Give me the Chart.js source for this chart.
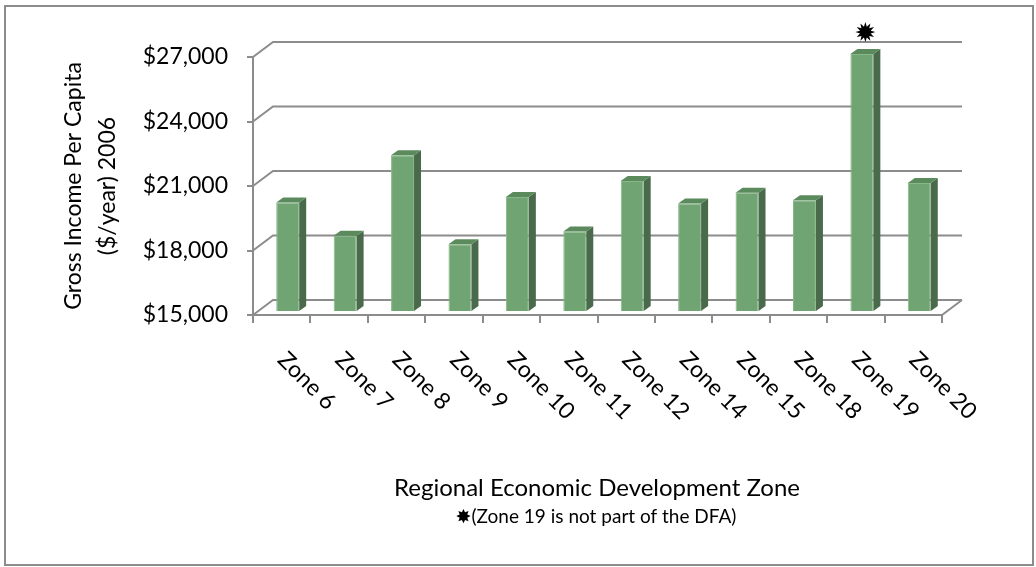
<!DOCTYPE html>
<html>
<head>
<meta charset="utf-8">
<script src="https://cdn.jsdelivr.net/npm/chart.js@4.4.0/dist/chart.umd.min.js"></script>
<style>
  html, body { margin: 0; padding: 0; background: #fff; }
  #wrap { width: 1036px; height: 567px; }
</style>
</head>
<body>
<div id="wrap"><canvas id="incomeChart" width="1036" height="567"></canvas></div>
<script>
const zones = ["Zone 6", "Zone 7", "Zone 8", "Zone 9", "Zone 10", "Zone 11",
               "Zone 12", "Zone 14", "Zone 15", "Zone 18", "Zone 19", "Zone 20"];
const incomePerCapita = [20050, 18500, 22250, 18100, 20300, 18700,
                         21050, 20000, 20500, 20150, 26950, 20950];
const yMin = 15000;
const yMax = 27000;
const yStep = 3000;
const flaggedZone = "Zone 19";
const yTitle = ["Gross Income Per Capita", "($/year) 2006"];
const xTitle = "Regional Economic Development Zone";
const footnote = "\u2738(Zone 19 is not part of the DFA)";

const FONT = "Lato, 'DejaVu Sans', sans-serif";
const GRID = "#8c8c8c";
const FRONT = "#71a473";
const SIDE = "#4a6b4b";
const TOP = "#5b8a5d";

// oblique offsets for the fake 3D look
const WALL_DX = 20, WALL_DY = -15;   // back wall relative to front axis
const SHIFT_X = 6, SHIFT_Y = -4;     // bars sit a little behind the front edge
const BAR_DX = 7, BAR_DY = -5;       // bar depth

function drawStar(ctx, cx, cy, rOut, rIn, points) {
  ctx.beginPath();
  for (let i = 0; i < points * 2; i++) {
    const r = i % 2 === 0 ? rOut : rIn;
    const a = -Math.PI / 2 + i * Math.PI / points;
    const px = cx + r * Math.cos(a), py = cy + r * Math.sin(a);
    i === 0 ? ctx.moveTo(px, py) : ctx.lineTo(px, py);
  }
  ctx.closePath();
  ctx.fill();
}

const depthPlugin = {
  id: "depth3d",
  beforeDraw(chart) {
    const ctx = chart.ctx;
    ctx.save();
    ctx.strokeStyle = GRID;
    ctx.lineWidth = 2;
    ctx.strokeRect(5, 6, 1028, 559);
    ctx.restore();
  },
  beforeDatasetsDraw(chart) {
    const { ctx, chartArea: a, scales: { x, y } } = chart;
    ctx.save();
    ctx.strokeStyle = GRID;
    ctx.lineWidth = 2;
    // back wall gridlines with the short diagonal from the front axis
    y.ticks.forEach(t => {
      const py = y.getPixelForValue(t.value);
      ctx.beginPath();
      ctx.moveTo(a.left, py);
      ctx.lineTo(a.left + WALL_DX, py + WALL_DY);
      ctx.lineTo(a.right + WALL_DX, py + WALL_DY);
      ctx.stroke();
    });
    // floor front edge and right edge
    ctx.beginPath();
    ctx.moveTo(a.left, a.bottom);
    ctx.lineTo(a.right, a.bottom);
    ctx.lineTo(a.right + WALL_DX, a.bottom + WALL_DY);
    ctx.stroke();
    // category separators
    for (let i = 0; i <= zones.length; i++) {
      const px = Math.round(x.getPixelForValue(i - 0.5));
      ctx.beginPath();
      ctx.moveTo(px, a.bottom);
      ctx.lineTo(px, a.bottom + 8);
      ctx.stroke();
    }
    ctx.restore();
    ctx.save();
    ctx.translate(SHIFT_X, SHIFT_Y);
  },
  afterDatasetsDraw(chart) {
    const ctx = chart.ctx;
    const floor = chart.chartArea.bottom;
    const meta = chart.getDatasetMeta(0);
    meta.data.forEach(bar => {
      const { x, y, base, width } = bar.getProps(["x", "y", "base", "width"], true);
      const b = Math.min(base, floor);
      const l = x - width / 2, r = x + width / 2;
      ctx.fillStyle = SIDE;
      ctx.beginPath();
      ctx.moveTo(r, y);
      ctx.lineTo(r + BAR_DX, y + BAR_DY);
      ctx.lineTo(r + BAR_DX, b + BAR_DY);
      ctx.lineTo(r, b);
      ctx.closePath();
      ctx.fill();
      ctx.fillStyle = TOP;
      ctx.beginPath();
      ctx.moveTo(l, y);
      ctx.lineTo(r, y);
      ctx.lineTo(r + BAR_DX, y + BAR_DY);
      ctx.lineTo(l + BAR_DX, y + BAR_DY);
      ctx.closePath();
      ctx.fill();
    });
    // marker over the flagged zone
    const fb = meta.data[zones.indexOf(flaggedZone)];
    ctx.fillStyle = "#000";
    drawStar(ctx, fb.x + BAR_DX / 2, fb.y - 22, 10, 5.5, 12);
    ctx.restore();
  },
  afterDraw(chart) {
    const { ctx, chartArea: a, scales: { x } } = chart;
    ctx.save();
    ctx.fillStyle = "#000";
    ctx.font = "23px " + FONT;
    ctx.textAlign = "left";
    ctx.textBaseline = "middle";
    zones.forEach((z, i) => {
      const px = x.getPixelForValue(i);
      ctx.save();
      ctx.translate(px, a.bottom + 41);
      ctx.rotate(Math.PI / 4);
      ctx.fillText(z, 0, 0);
      ctx.restore();
    });
    ctx.textAlign = "center";
    ctx.font = "24px " + FONT;
    ctx.fillText(xTitle, 597, 488);
    ctx.font = "19px " + FONT;
    ctx.fillText(footnote, 596, 517);
    ctx.restore();
  }
};

new Chart(document.getElementById("incomeChart"), {
  type: "bar",
  data: {
    labels: zones,
    datasets: [{
      data: incomePerCapita,
      backgroundColor: FRONT,
      borderColor: "#86b888",
      borderWidth: 1,
      borderSkipped: false,
      barPercentage: 0.4,
      categoryPercentage: 1
    }]
  },
  options: {
    responsive: false,
    animation: false,
    devicePixelRatio: 1,
    layout: { padding: { left: 0, top: 57, right: 94, bottom: 252 } },
    plugins: { legend: { display: false }, tooltip: { enabled: false } },
    scales: {
      x: { display: false },
      y: {
        min: yMin,
        max: yMax,
        afterFit(scale) { scale.width = 253; },
        ticks: {
          stepSize: yStep,
          padding: 19,
          color: "#000",
          font: { family: FONT, size: 23 },
          callback: v => "$" + v.toLocaleString("en-US")
        },
        grid: { drawOnChartArea: false, drawTicks: true, tickLength: 6, color: GRID, lineWidth: 2 },
        border: { display: true, color: GRID, width: 2 },
        title: {
          display: true,
          text: yTitle,
          color: "#000",
          font: { family: FONT, size: 23, lineHeight: 1.46 },
          padding: { top: 57, bottom: 0 }
        }
      }
    }
  },
  plugins: [depthPlugin]
});
</script>
</body>
</html>
